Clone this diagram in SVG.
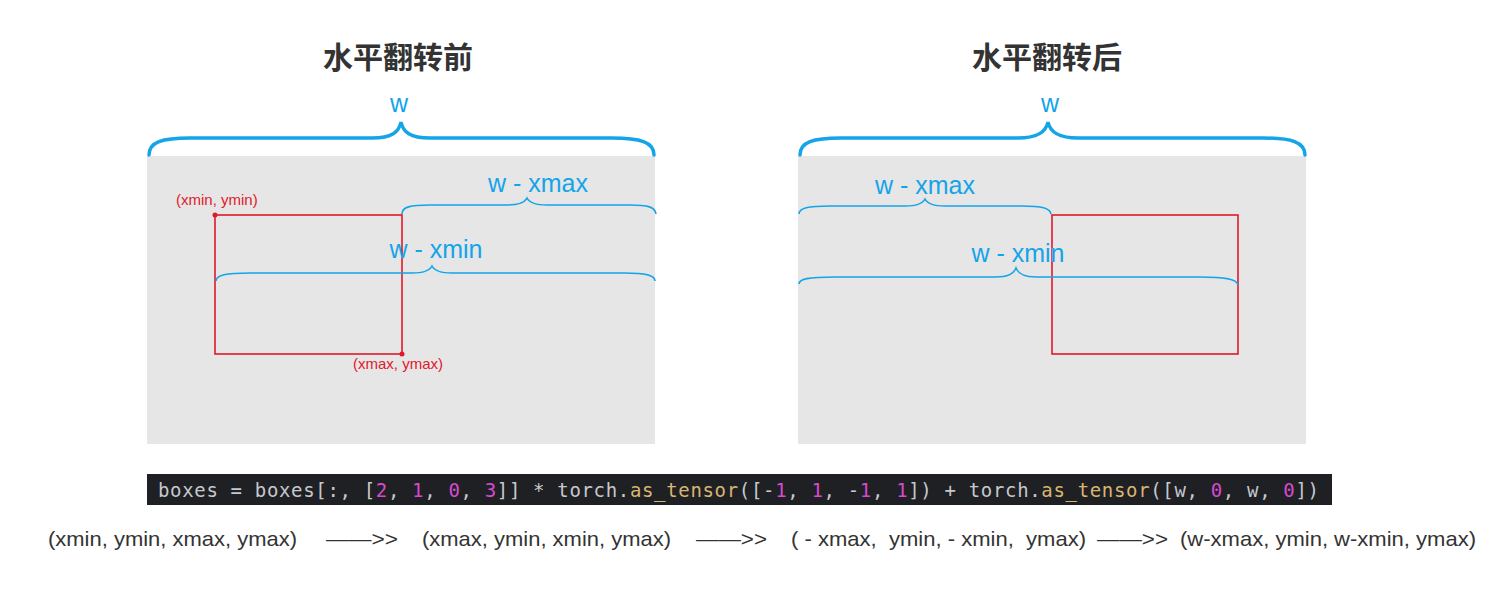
<svg xmlns="http://www.w3.org/2000/svg" width="1500" height="592" viewBox="0 0 1500 592">
<style>
.title{font-family:"Noto Sans CJK SC","Noto Sans",sans-serif;font-size:30px;font-weight:bold;fill:#333;text-anchor:middle}
.lbl{font-family:"Liberation Sans",Arial,sans-serif;font-size:25px;fill:#13a4ea;text-anchor:middle}
.red{font-family:"Liberation Sans",Arial,sans-serif;font-size:15px;fill:#e0192b}
.bg{fill:#e6e6e6}
.box{fill:none;stroke:#e0192b;stroke-width:1.6}
.big{fill:none;stroke:#13a4ea;stroke-width:3.5;stroke-linecap:round}
.small{fill:none;stroke:#13a4ea;stroke-width:1.6}
.code{font-family:"DejaVu Sans Mono","Liberation Mono",monospace;font-size:19px;fill:#c6c8ce}
.num{fill:#d848d0}
.fn{fill:#d8b572}
.flow{font-family:"Liberation Sans",Arial,sans-serif;font-size:21px;fill:#333}
</style>
<rect width="1500" height="592" fill="#fff"/>
<g id="before">
  <text class="title" x="398" y="68">水平翻转前</text>
  <rect class="bg" x="147" y="156" width="508" height="288"/>
  <text class="lbl" x="399" y="112">w</text>
  <path class="big" d="M149,155 C149,142 162,138 190,138 L372,138 C392,138 399,132 401,122 C403,132 410,138 430,138 L612,138 C640,138 654,142 654,155"/>
  <rect class="box" x="215" y="215" width="187" height="139"/>
  <circle cx="215" cy="215" r="2.5" fill="#e0192b"/>
  <circle cx="402" cy="354" r="2.5" fill="#e0192b"/>
  <text class="red" x="176" y="205">(xmin, ymin)</text>
  <text class="red" x="353" y="369">(xmax, ymax)</text>
  <text class="lbl" x="538" y="192">w - xmax</text>
  <path class="small" d="M402,214 C402,207 410,205 430,205 L507,205 C520,205 525,202 527,198 C529,202 534,205 547,205 L630,205 C648,205 655,207 656,214"/>
  <text class="lbl" x="436" y="258">w - xmin</text>
  <path class="small" d="M216,281 C216,275 226,273 250,273 L412,273 C425,273 430,270 432,266 C434,270 439,273 452,273 L625,273 C645,273 655,275 655,281"/>
</g>
<g id="after">
  <text class="title" x="1047" y="68">水平翻转后</text>
  <rect class="bg" x="798" y="156" width="508" height="288"/>
  <text class="lbl" x="1050" y="112">w</text>
  <path class="big" d="M800,155 C800,142 813,138 841,138 L1018,138 C1038,138 1046,132 1048,122 C1050,132 1058,138 1078,138 L1263,138 C1291,138 1305,142 1305,155"/>
  <rect class="box" x="1052" y="215" width="186" height="139"/>
  <text class="lbl" x="925" y="194">w - xmax</text>
  <path class="small" d="M799,214 C799,208 808,206 830,206 L905,206 C918,206 923,203 925,199 C927,203 932,206 945,206 L1022,206 C1042,206 1050,208 1051,214"/>
  <text class="lbl" x="1018" y="262">w - xmin</text>
  <path class="small" d="M799,284 C799,279 808,277 835,277 L996,277 C1009,277 1014,273 1016,268 C1018,273 1023,277 1036,277 L1200,277 C1225,277 1237,279 1238,285"/>
</g>
<g id="code">
  <rect x="147" y="474" width="1185" height="31" fill="#1f2023"/>
  <text class="code" x="158" y="497" textLength="1161" lengthAdjust="spacing">boxes = boxes[:, [<tspan class="num">2</tspan>, <tspan class="num">1</tspan>, <tspan class="num">0</tspan>, <tspan class="num">3</tspan>]] * torch.<tspan class="fn">as_tensor</tspan>([-<tspan class="num">1</tspan>, <tspan class="num">1</tspan>, -<tspan class="num">1</tspan>, <tspan class="num">1</tspan>]) + torch.<tspan class="fn">as_tensor</tspan>([w, <tspan class="num">0</tspan>, w, <tspan class="num">0</tspan>])</text>
</g>
<g id="flow">
  <text class="flow" x="48" y="546" textLength="249" lengthAdjust="spacingAndGlyphs">(xmin, ymin, xmax, ymax)</text>
  <text class="flow" x="326" y="546" textLength="72" lengthAdjust="spacingAndGlyphs">——&gt;&gt;</text>
  <text class="flow" x="422" y="546" textLength="249" lengthAdjust="spacingAndGlyphs">(xmax, ymin, xmin, ymax)</text>
  <text class="flow" x="696" y="546" textLength="71" lengthAdjust="spacingAndGlyphs">——&gt;&gt;</text>
  <text class="flow" x="791" y="546" textLength="295" lengthAdjust="spacingAndGlyphs" xml:space="preserve">( - xmax,  ymin, - xmin,  ymax)</text>
  <text class="flow" x="1097" y="546" textLength="71" lengthAdjust="spacingAndGlyphs">——&gt;&gt;</text>
  <text class="flow" x="1180" y="546" textLength="296" lengthAdjust="spacingAndGlyphs">(w-xmax, ymin, w-xmin, ymax)</text>
</g>
</svg>
